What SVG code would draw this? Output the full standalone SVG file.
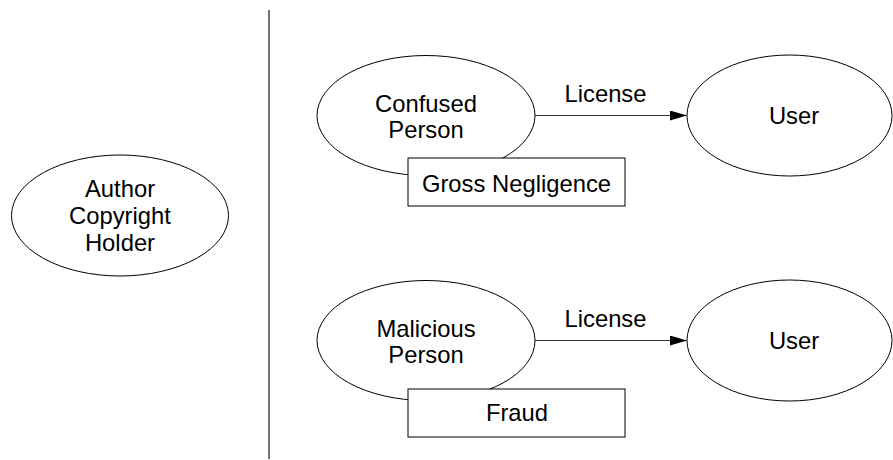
<svg xmlns="http://www.w3.org/2000/svg" width="893" height="460" viewBox="0 0 893 460">
  <style>
    .shape { fill: #ffffff; stroke: #000000; stroke-width: 1; }
    .label { font-family: "Liberation Sans", Arial, sans-serif; font-size: 23.8px; fill: #000000; text-anchor: middle; }
    .edge { stroke: #333333; stroke-width: 1.2; fill: none; }
    .divider { stroke: #444444; stroke-width: 1.5; }
  </style>
  <defs>
    <marker id="arrow" markerWidth="18" markerHeight="10" refX="17" refY="5" orient="auto" markerUnits="userSpaceOnUse">
      <path d="M0,0 L17,5 L0,10 Z" fill="#000000"/>
    </marker>
  </defs>

  <rect width="893" height="460" fill="#ffffff"/>

  <!-- divider between the author and the two scenarios -->
  <line class="divider" x1="269" y1="10" x2="269" y2="459"/>

  <g id="author">
    <ellipse class="shape" cx="120" cy="215.5" rx="108.5" ry="60.5"/>
    <text class="label" x="120" y="197">Author</text>
    <text class="label" x="120" y="224">Copyright</text>
    <text class="label" x="120" y="251">Holder</text>
  </g>

  <g id="connectors">
    <line class="edge" x1="535" y1="115.5" x2="687" y2="115.5" marker-end="url(#arrow)"/>
    <text class="label" x="605.5" y="102">License</text>
    <line class="edge" x1="535" y1="340.5" x2="687" y2="340.5" marker-end="url(#arrow)"/>
    <text class="label" x="605.5" y="327">License</text>
  </g>

  <g id="confused-person">
    <ellipse class="shape" cx="426" cy="115.5" rx="109" ry="60"/>
    <text class="label" x="426" y="112">Confused</text>
    <text class="label" x="426" y="137.5">Person</text>
  </g>

  <g id="gross-negligence">
    <rect class="shape" x="408" y="158" width="217" height="48"/>
    <text class="label" x="516.5" y="192">Gross Negligence</text>
  </g>

  <g id="user-1">
    <ellipse class="shape" cx="789.5" cy="115.5" rx="102.5" ry="60.5"/>
    <text class="label" x="794" y="123.5">User</text>
  </g>

  <g id="malicious-person">
    <ellipse class="shape" cx="426" cy="340.5" rx="109" ry="60"/>
    <text class="label" x="426" y="337">Malicious</text>
    <text class="label" x="426" y="362.5">Person</text>
  </g>

  <g id="fraud">
    <rect class="shape" x="408" y="389" width="217" height="48"/>
    <text class="label" x="517" y="421">Fraud</text>
  </g>

  <g id="user-2">
    <ellipse class="shape" cx="789.5" cy="340.5" rx="102.5" ry="60.5"/>
    <text class="label" x="794" y="348.5">User</text>
  </g>
</svg>
